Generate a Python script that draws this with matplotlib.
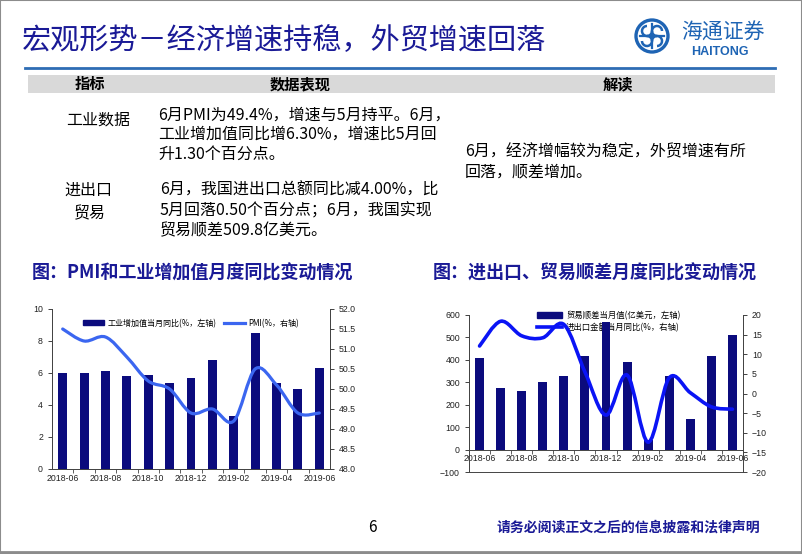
import matplotlib
matplotlib.use('Agg')
import matplotlib.pyplot as plt
from matplotlib.path import Path
from matplotlib.patches import PathPatch, Rectangle, Ellipse, Arc
from matplotlib.lines import Line2D

plt.rcParams['font.family'] = ['Noto Sans CJK SC', 'DejaVu Sans']

W, H = 802, 554
NAVY = '#0b0b7d'
TXT_NAVY = '#1a1a96'
LOGO = '#1e64b4'

months = ['2018-06', '2018-07', '2018-08', '2018-09', '2018-10', '2018-11',
          '2018-12', '2019-01', '2019-02', '2019-03', '2019-04', '2019-05',
          '2019-06']
ind_yoy = [6.0, 6.0, 6.1, 5.8, 5.9, 5.4, 5.7, 6.8, 3.3, 8.5, 5.4, 5.0, 6.3]
pmi = [51.5, 51.2, 51.3, 50.8, 50.2, 50.0, 49.4, 49.5, 49.2, 50.5, 50.1, 49.4, 49.4]
trade_bal = [407, 275, 260, 303, 330, 418, 568, 391, 41, 326, 137, 418, 510]
trade_yoy = [12.1, 18.4, 14.7, 14.2, 17.6, 5.5, -5.5, 4.7, -12.4, 4.0, 0.2, -3.4, -4.0]

row1_text = ['6月PMI为49.4%，增速与5月持平。6月，',
             '工业增加值同比增6.30%，增速比5月回',
             '升1.30个百分点。']
row2_text = ['6月，我国进出口总额同比减4.00%，比',
             '5月回落0.50个百分点；6月，我国实现',
             '贸易顺差509.8亿美元。']
comment_text = ['6月，经济增幅较为稳定，外贸增速有所', '回落，顺差增加。']


def px(x, y):
    return x / W, 1 - y / H


def smooth_path(xs, ys):
    # excel style smoothed line, bezier through the data points
    verts = [(xs[0], ys[0])]
    codes = [Path.MOVETO]
    n = len(xs)
    for i in range(n - 1):
        x0, y0 = xs[max(i - 1, 0)], ys[max(i - 1, 0)]
        x1, y1 = xs[i], ys[i]
        x2, y2 = xs[i + 1], ys[i + 1]
        x3, y3 = xs[min(i + 2, n - 1)], ys[min(i + 2, n - 1)]
        verts += [(x1 + (x2 - x0) / 6, y1 + (y2 - y0) / 6),
                  (x2 - (x3 - x1) / 6, y2 - (y3 - y1) / 6),
                  (x2, y2)]
        codes += [Path.CURVE4] * 3
    return Path(verts, codes)


def add_axes_px(fig, x0, y0, x1, y1):
    return fig.add_axes([x0 / W, 1 - y1 / H, (x1 - x0) / W, (y1 - y0) / H])


def style_axes(ax, ax2):
    for a in (ax, ax2):
        a.spines['top'].set_visible(False)
        a.set_facecolor('none')
        a.tick_params(labelsize=6.3, colors='#222222', length=3, width=0.6,
                      labelfontfamily='Liberation Sans')
        for s in a.spines.values():
            s.set_linewidth(0.7)
            s.set_color('#444444')


fig = plt.figure(figsize=(W / 100, H / 100), dpi=100)

# slide frame
fig.add_artist(Rectangle((0, 0), 1, 1, transform=fig.transFigure, fill=False,
                         edgecolor='#8c8c8c', linewidth=1.5))
fig.add_artist(Line2D([0, 1], [1 - 552 / H] * 2, transform=fig.transFigure,
                      color='#8c8c8c', linewidth=2))

# title and logo
fig.text(*px(22, 41), '宏观形势－经济增速持稳，外贸增速回落', fontsize=21,
         color=TXT_NAVY, va='center', ha='left', fontweight='medium')
fig.add_artist(Ellipse(px(652, 36), 32 / W, 32 / H, transform=fig.transFigure,
                       fill=False, edgecolor=LOGO, linewidth=2.4))
for dx, dy, t0 in [(-5, -5, 90), (5, -5, 0), (-5, 5, 180), (5, 5, 270)]:
    fig.add_artist(Arc(px(652 + dx, 36 + dy), 10 / W, 10 / H, transform=fig.transFigure,
                       theta1=t0, theta2=t0 + 270, edgecolor=LOGO, linewidth=1.8))
fig.add_artist(Line2D([640 / W, 664 / W], [1 - 36 / H] * 2, transform=fig.transFigure,
                      color=LOGO, linewidth=1.6))
fig.add_artist(Line2D([652 / W, 652 / W], [1 - 24 / H, 1 - 48 / H],
                      transform=fig.transFigure, color=LOGO, linewidth=1.6))
fig.text(*px(723, 33), '海通证券', fontsize=15, color=LOGO, ha='center',
         va='center', style='italic')
fig.text(*px(720, 52), 'HAITONG', fontsize=9, color=LOGO, ha='center',
         va='center', fontweight='bold', family=['Liberation Sans'])

fig.add_artist(Line2D([25 / W, 775 / W], [1 - 68 / H] * 2, transform=fig.transFigure,
                      color='#2e6db4', linewidth=2))

# table
fig.add_artist(Rectangle(px(28, 93), 747 / W, 18 / H, transform=fig.transFigure,
                         facecolor='#d9d9d9', edgecolor='none'))
for x, s in [(90, '指标'), (300, '数据表现'), (618, '解读')]:
    fig.text(*px(x, 84), s, fontsize=11, fontweight='bold', ha='center', va='center')

fig.text(*px(98, 120), '工业数据', fontsize=11.5, ha='center', va='center')
fig.text(*px(88, 190), '进出口', fontsize=11.5, ha='center', va='center')
fig.text(*px(90, 214), '贸易', fontsize=11.5, ha='center', va='center')
for i, s in enumerate(row1_text):
    fig.text(*px(158, 115 + 19.5 * i), s, fontsize=11.5, ha='left', va='center')
for i, s in enumerate(row2_text):
    fig.text(*px(160, 190 + 20.5 * i), s, fontsize=11.5, ha='left', va='center')
for i, s in enumerate(comment_text):
    fig.text(*px(465, 152 + 20 * i), s, fontsize=11.5, ha='left', va='center')

# section titles
fig.text(*px(32, 273), '图：PMI和工业增加值月度同比变动情况', fontsize=13,
         fontweight='bold', color=TXT_NAVY, ha='left', va='center')
fig.text(*px(433, 273), '图：进出口、贸易顺差月度同比变动情况', fontsize=13,
         fontweight='bold', color=TXT_NAVY, ha='left', va='center')

idx = list(range(len(months)))
xticks = idx[::2]
xlabels = months[::2]

# left chart
ax = add_axes_px(fig, 52, 309, 330, 469)
ax2 = ax.twinx()
ax.bar(idx, ind_yoy, width=0.42, color=NAVY, zorder=2)
ax.set_xlim(-0.5, len(months) - 0.5)
ax.set_ylim(0, 10)
ax.set_yticks(range(0, 11, 2))
ax2.set_ylim(48, 52)
ax2.set_yticks([48 + 0.5 * k for k in range(9)])
ax2.set_yticklabels([f'{48 + 0.5 * k:.1f}' for k in range(9)])
ax2.add_patch(PathPatch(smooth_path(idx, pmi), fill=False, edgecolor='#3b66f0',
                        linewidth=2.3, capstyle='round'))
ax.set_xticks(xticks)
ax.set_xticklabels(xlabels)
ax.set_xticks([i + 0.5 for i in idx[:-1]], minor=True)
style_axes(ax, ax2)
ax.tick_params(axis='x', which='major', length=0)
ax.tick_params(axis='x', which='minor', length=3, width=0.6, color='#444444')
ax.legend([Rectangle((0, 0), 1, 1, color=NAVY),
           Line2D([], [], color='#3b66f0', linewidth=2.3)],
          ['工业增加值当月同比(%，左轴)', 'PMI(%，右轴)'],
          loc='upper center', bbox_to_anchor=(0.5, 0.985), ncol=2, frameon=False,
          fontsize=5.8, handlelength=2.6, handleheight=0.6, columnspacing=0.9,
          handletextpad=0.4)

# right chart
bx = add_axes_px(fig, 469, 315, 743, 472)
bx2 = bx.twinx()
bx.bar(idx, trade_bal, width=0.42, color=NAVY, zorder=2)
bx.set_xlim(-0.5, len(months) - 0.5)
bx.set_ylim(-100, 600)
bx.set_yticks(range(-100, 601, 100))
bx2.set_ylim(-20, 20)
bx2.set_yticks(range(-20, 21, 5))
bx2.add_patch(PathPatch(smooth_path(idx, trade_yoy), fill=False, edgecolor='#0a14f5',
                        linewidth=2.6, capstyle='round'))
bx.spines['bottom'].set_position(('data', 0))
bx.set_xticks(xticks)
bx.set_xticklabels(xlabels)
bx.set_xticks([i + 0.5 for i in idx[:-1]], minor=True)
style_axes(bx, bx2)
bx.tick_params(axis='x', which='major', length=0)
bx.tick_params(axis='x', which='minor', length=3, width=0.6, color='#444444')
leg = bx.legend([Rectangle((0, 0), 1, 1, color=NAVY),
                 Line2D([], [], color='#0a14f5', linewidth=2.6)],
                ['贸易顺差当月值(亿美元，左轴)', '进出口金额当月同比(%，右轴)'],
                loc='upper left', bbox_to_anchor=(0.22, 1.075), ncol=1, frameon=False,
                fontsize=6, handlelength=3, handleheight=0.6, labelspacing=0.35,
                handletextpad=0.5)
leg.set_zorder(0.5)

# footer
fig.text(*px(372, 527), '6', fontsize=11, ha='center', va='center')
fig.text(*px(497, 528), '请务必阅读正文之后的信息披露和法律声明', fontsize=10,
         fontweight='bold', color=TXT_NAVY, ha='left', va='center')

fig.savefig('out.png', dpi=100)
